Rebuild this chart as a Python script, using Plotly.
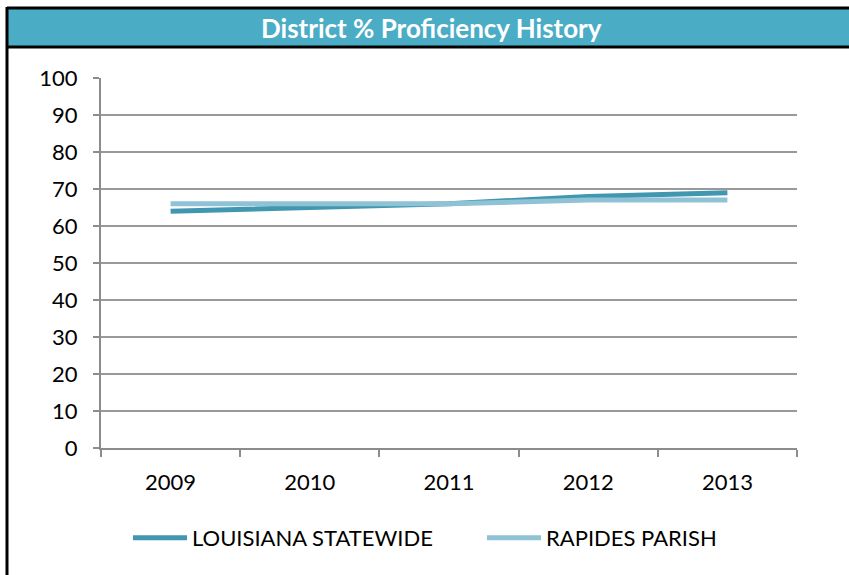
import plotly.graph_objects as go

years = ["2009", "2010", "2011", "2012", "2013"]
louisiana = [64, 65, 66, 68, 69]
rapides = [66, 66, 66, 67, 67]
y_ticks = [0, 10, 20, 30, 40, 50, 60, 70, 80, 90, 100]

W, H = 849, 575
L, R, T, B = 101, 52, 78, 127
pw, ph = W - L - R, H - T - B

def px(x):
    return (x - L) / pw

def py(y):
    return (H - B - y) / ph

FONT = "Lato, sans-serif"

fig = go.Figure()
fig.add_trace(go.Scatter(x=years, y=louisiana, mode="lines", name="LOUISIANA STATEWIDE",
                         line=dict(color="#4197B0", width=5), legend="legend"))
fig.add_trace(go.Scatter(x=years, y=rapides, mode="lines", name="RAPIDES PARISH",
                         line=dict(color="#8FC2D5", width=5), legend="legend2"))

shapes = [
    dict(type="rect", xref="paper", yref="paper", x0=px(7), x1=px(860), y0=py(47), y1=py(8),
         fillcolor="#4BACC6", line=dict(width=0), layer="below"),
    dict(type="line", xref="paper", yref="paper", x0=px(7), x1=px(860), y0=py(8), y1=py(8),
         line=dict(color="black", width=3)),
    dict(type="line", xref="paper", yref="paper", x0=px(7), x1=px(860), y0=py(47), y1=py(47),
         line=dict(color="black", width=3)),
    dict(type="line", xref="paper", yref="paper", x0=px(7), x1=px(7), y0=py(7), y1=py(590),
         line=dict(color="black", width=3)),
]

leg_common = dict(orientation="h", xanchor="left", yanchor="middle", y=py(538),
                  font=dict(family=FONT, size=22, color="black"), itemwidth=54,
                  bgcolor="rgba(0,0,0,0)")

fig.update_layout(
    width=W, height=H,
    margin=dict(l=L, r=R, t=T, b=B),
    paper_bgcolor="white", plot_bgcolor="white",
    font=dict(family=FONT, size=22, color="black"),
    shapes=shapes,
    annotations=[dict(text="<b>District % Proficiency History</b>", xref="paper", yref="paper",
                      x=px(431), y=py(28), showarrow=False,
                      font=dict(family=FONT, size=26, color="white"),
                      xanchor="center", yanchor="middle")],
    showlegend=True,
    legend=dict(x=px(128), **leg_common),
    legend2=dict(x=px(482), **leg_common),
    xaxis=dict(type="category", showgrid=False, showline=True, linecolor="#8C8C8C", linewidth=2,
               ticks="outside", ticklen=7, tickcolor="#8C8C8C", tickwidth=2,
               tickson="boundaries", range=[-0.5, 4.5], zeroline=False,
               tickfont=dict(size=22), ticklabelstandoff=14),
    yaxis=dict(range=[0, 100], tickvals=y_ticks, showgrid=True, gridcolor="#999999", gridwidth=2,
               showline=True, linecolor="#8C8C8C", linewidth=2, ticks="outside", ticklen=6,
               tickcolor="#8C8C8C", tickwidth=2, zeroline=False, tickfont=dict(size=22),
               ticklabelstandoff=11),
)

fig.write_html("out.html", config={"displayModeBar": False},
               post_script="document.body.style.margin='0';document.body.style.overflow='hidden';")
